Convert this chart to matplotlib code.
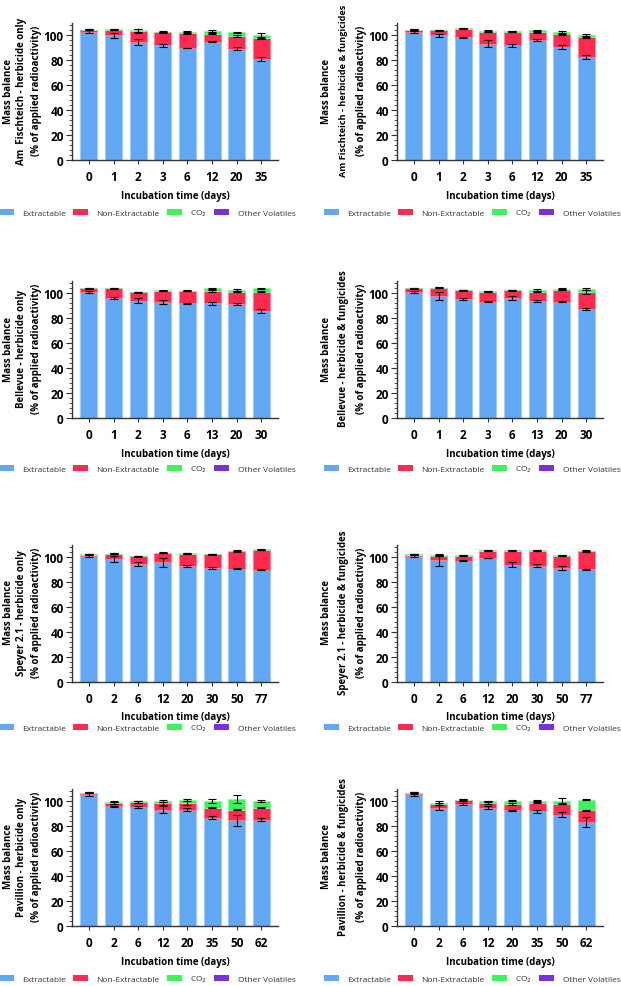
import numpy as np
import matplotlib
matplotlib.use("Agg")
import matplotlib.pyplot as plt
from matplotlib.ticker import MultipleLocator
from matplotlib.patches import Patch

plt.rcParams['font.family'] = ['Open Sans', 'DejaVu Sans']

# ---- data ----
series_names = ["Extractable", "Non-Extractable", "CO$_2$", "Other Volatiles"]
colors = ["#62a8f5", "#ff2a50", "#3df25a", "#7a2fe0"]
edge_colors = ["#9ccaf8", "#ff7b92", "#8ff79f", "#a77aea"]

# Am Fischteich - herbicide only
af_h_days = ["0", "1", "2", "3", "6", "12", "20", "35"]
af_h_ext = [103, 100, 95, 92, 90, 95, 89.5, 81]
af_h_ner = [1.5, 4.5, 8.7, 10.5, 12, 6.5, 10, 17]
af_h_co2 = [0.2, 0.3, 0.3, 0.5, 0.7, 2, 3, 2]
af_h_ext_err = [1, 2, 2.5, 1, 0.3, 0.5, 1, 1.5]
af_h_ner_err = [0.5, 0.5, 1.5, 0.3, 1, 0.5, 0.5, 0.5]
af_h_co2_err = [0.5, 0.5, 1.5, 0.3, 0.8, 0.5, 0.3, 2]

# Am Fischteich - herbicide & fungicides
af_f_days = ["0", "1", "2", "3", "6", "12", "20", "35"]
af_f_ext = [103, 100, 98.5, 93.5, 92, 96.5, 91, 82.5]
af_f_ner = [1.5, 4, 7, 9.5, 11, 6, 10, 16]
af_f_co2 = [0.2, 0.2, 0.2, 0.5, 0.3, 1.5, 2, 2]
af_f_ext_err = [0.7, 1.5, 0.3, 2.5, 1.5, 0.8, 1.5, 1.5]
af_f_ner_err = [0.3, 0.3, 0.3, 0.5, 0.3, 0.5, 0.5, 0.5]
af_f_co2_err = [0.7, 0.3, 0.3, 1, 0.3, 0.7, 0.8, 0.8]

# Bellevue - herbicide only
bv_h_days = ["0", "1", "2", "3", "6", "13", "20", "30"]
bv_h_ext = [101, 96.5, 94, 93, 92, 92, 91.5, 86]
bv_h_ner = [3, 7.5, 7, 9, 10, 10, 10, 15.5]
bv_h_co2 = [0.2, 0.2, 0.2, 0.5, 0.2, 2, 1.5, 2.5]
bv_h_ext_err = [1, 0.7, 2, 1.5, 0.3, 1, 0.5, 1.5]
bv_h_ner_err = [0.5, 0.3, 0.3, 0.3, 0.3, 0.5, 0.7, 0.3]
bv_h_co2_err = [0.3, 0.3, 0.3, 0.3, 0.3, 0.3, 0.7, 0.3]

# Bellevue - herbicide & fungicides
bv_f_days = ["0", "1", "2", "3", "6", "13", "20", "30"]
bv_f_ext = [101, 98, 95.5, 93.5, 96.5, 94, 93.5, 87.5]
bv_f_ner = [3, 6.5, 7, 8, 6, 7.5, 9.5, 13.5]
bv_f_co2 = [0.2, 0.2, 0.2, 0.2, 0.2, 1.5, 0.5, 2.5]
bv_f_ext_err = [1, 3.5, 0.5, 0.3, 1.5, 1, 0.3, 0.5]
bv_f_ner_err = [0.5, 0.3, 0.3, 0.3, 0.3, 0.5, 0.3, 1.5]
bv_f_co2_err = [0.3, 0.3, 0.3, 0.3, 0.3, 0.7, 0.5, 0.5]

# Speyer 2.1 - herbicide only
sp_h_days = ["0", "2", "6", "12", "20", "30", "50", "77"]
sp_h_ext = [101.5, 98.5, 94.5, 96, 93, 91.5, 91, 90.3]
sp_h_ner = [0.8, 4.5, 6.5, 7.5, 10, 11, 14, 15.7]
sp_h_co2 = [0.1, 0.1, 0.1, 0.3, 0.2, 0.2, 0.5, 0.5]
sp_h_ext_err = [1.5, 2.5, 1.5, 3.5, 0.7, 0.7, 0.2, 0.3]
sp_h_ner_err = [0.3, 0.5, 0.3, 0.3, 0.3, 0.3, 0.5, 0.3]
sp_h_co2_err = [0.3, 0.3, 0.2, 0.2, 0.3, 0.2, 0.3, 0.3]

# Speyer 2.1 - herbicide & fungicides
sp_f_days = ["0", "2", "6", "12", "20", "30", "50", "77"]
sp_f_ext = [101.5, 98, 97.5, 99.5, 94, 93.5, 91.5, 90.5]
sp_f_ner = [0.8, 3.5, 4, 6, 11.5, 12, 10, 14.5]
sp_f_co2 = [0.1, 0.1, 0.1, 0.1, 0.2, 0.2, 0.2, 0.3]
sp_f_ext_err = [1, 4.5, 0.5, 0.3, 2, 1.5, 1.5, 0.3]
sp_f_ner_err = [0.3, 0.5, 0.3, 0.3, 0.3, 0.3, 0.3, 0.3]
sp_f_co2_err = [0.3, 0.5, 0.2, 0.3, 0.3, 0.3, 0.3, 0.3]

# Pavillion - herbicide only
pv_h_days = ["0", "2", "6", "12", "20", "35", "50", "62"]
pv_h_ext = [106, 96, 95.5, 93.5, 93.5, 87, 85, 85.5]
pv_h_ner = [0.7, 3, 4, 5, 5.5, 8, 8.5, 9.5]
pv_h_co2 = [0.2, 0.5, 0.8, 2, 2, 5.5, 8.5, 5.5]
pv_h_ext_err = [1.5, 0.5, 1, 2.5, 1.5, 1, 4.5, 1]
pv_h_ner_err = [0.3, 1, 1, 1, 1.5, 0.5, 0.5, 0.5]
pv_h_co2_err = [0.3, 0.3, 0.3, 0.7, 1, 1.5, 3.5, 1]

# Pavillion - herbicide & fungicides
pv_f_days = ["0", "2", "6", "12", "20", "35", "50", "62"]
pv_f_ext = [106, 95, 98, 95, 93, 92, 89.5, 83.5]
pv_f_ner = [0.7, 3, 3, 4, 5, 7, 8.5, 9.5]
pv_f_co2 = [0.2, 0.5, 0.5, 1, 2.5, 1.5, 2.5, 8.5]
pv_f_ext_err = [1.5, 2, 1, 1, 0.3, 1.5, 2, 4]
pv_f_ner_err = [0.5, 1, 1, 1, 0.5, 0.3, 0.3, 0.3]
pv_f_co2_err = [0.5, 1.5, 0.3, 0.5, 0.3, 0.3, 2, 0.7]

other_vol = [0, 0, 0, 0, 0, 0, 0, 0]

panels = [
    ("Am  Fischteich - herbicide only",
     af_h_days, af_h_ext, af_h_ner, af_h_co2, af_h_ext_err, af_h_ner_err, af_h_co2_err),
    ("Am Fischteich - herbicide & fungicides",
     af_f_days, af_f_ext, af_f_ner, af_f_co2, af_f_ext_err, af_f_ner_err, af_f_co2_err),
    ("Bellevue - herbicide only",
     bv_h_days, bv_h_ext, bv_h_ner, bv_h_co2, bv_h_ext_err, bv_h_ner_err, bv_h_co2_err),
    ("Bellevue - herbicide & fungicides",
     bv_f_days, bv_f_ext, bv_f_ner, bv_f_co2, bv_f_ext_err, bv_f_ner_err, bv_f_co2_err),
    ("Speyer 2.1 - herbicide only",
     sp_h_days, sp_h_ext, sp_h_ner, sp_h_co2, sp_h_ext_err, sp_h_ner_err, sp_h_co2_err),
    ("Speyer 2.1 - herbicide & fungicides",
     sp_f_days, sp_f_ext, sp_f_ner, sp_f_co2, sp_f_ext_err, sp_f_ner_err, sp_f_co2_err),
    ("Pavillion - herbicide only",
     pv_h_days, pv_h_ext, pv_h_ner, pv_h_co2, pv_h_ext_err, pv_h_ner_err, pv_h_co2_err),
    ("Pavillion - herbicide & fungicides",
     pv_f_days, pv_f_ext, pv_f_ner, pv_f_co2, pv_f_ext_err, pv_f_ner_err, pv_f_co2_err),
]

W, H = 621, 987
fig = plt.figure(figsize=(W / 100, H / 100), dpi=100)

col_left = [72, 397]            # px, left spine
axis_w = 206                     # px
row_zero = [161, 419, 683, 927]  # px, y of zero line
axis_h = 137
legend_y = [214, 470, 729, 980]
legend_x = [-1, 324]
xlab_off = [36, 36, 35, 36]
# x offsets (px from left spine) of the three y-label lines
ylab_x = {0: [-64, -50, -35], 1: [-70, -53, -35]}
ylab_mid = 70  # px above zero line

for i, (site, days, ext, ner, co2, e_err, n_err, c_err) in enumerate(panels):
    r, c = divmod(i, 2)
    ax = fig.add_axes([col_left[c] / W, (H - row_zero[r]) / H, axis_w / W, axis_h / H])
    x = np.arange(len(days))
    ext = np.array(ext)
    ner = np.array(ner)
    co2 = np.array(co2)
    ov = np.array(other_vol)
    bw = 0.69
    b1 = ext
    b2 = b1 + ner
    b3 = b2 + co2
    ax.bar(x, ext, bw, color=colors[0], edgecolor=edge_colors[0], linewidth=0.6, zorder=2)
    ax.bar(x, ner, bw, bottom=b1, color=colors[1], edgecolor=edge_colors[1], linewidth=0.6, zorder=2)
    ax.bar(x, co2, bw, bottom=b2, color=colors[2], edgecolor=edge_colors[2], linewidth=0.6, zorder=2)
    ax.bar(x, ov, bw, bottom=b3, color=colors[3], linewidth=0, zorder=2)
    for top, err in [(b1, e_err), (b2, n_err), (b3, c_err)]:
        ax.errorbar(x, top, yerr=err, fmt="none", ecolor="black", elinewidth=0.8,
                    capsize=2.6, capthick=0.8, zorder=3)

    ax.set_xlim(-0.69, 7.68)
    ax.set_ylim(0, 110)
    ax.yaxis.set_major_locator(MultipleLocator(20))
    ax.yaxis.set_minor_locator(MultipleLocator(4))
    ax.set_xticks(x)
    ax.set_xticklabels(days)
    for s in ["top", "right"]:
        ax.spines[s].set_visible(False)
    for s in ["left", "bottom"]:
        ax.spines[s].set_color("#333333")
        ax.spines[s].set_linewidth(1.0)
    ax.tick_params(axis="both", which="major", labelsize=8.5, width=0.8, color="#333333", pad=2)
    ax.tick_params(axis="y", which="major", length=4)
    ax.tick_params(axis="y", which="minor", length=2, width=0.6, color="#333333")
    ax.tick_params(axis="x", which="major", length=3, pad=4)
    for lab in ax.get_xticklabels() + ax.get_yticklabels():
        lab.set_fontweight("bold")

    ax.set_xlabel("Incubation time (days)", fontsize=7, fontweight="bold", va="center")
    ax.xaxis.set_label_coords(0.5, -xlab_off[r] / axis_h)

    lines = ["Mass balance", site, "(% of applied radioactivity)"]
    sizes = [7, 7, 7]
    if i == 1:
        sizes[1] = 6.6
    for k, txt in enumerate(lines):
        ax.text(ylab_x[c][k] / axis_w, ylab_mid / axis_h, txt, transform=ax.transAxes,
                rotation=90, ha="center", va="center", fontsize=sizes[k], fontweight="bold")

    handles = [Patch(facecolor=col, edgecolor="none") for col in colors]
    fig.legend(handles, series_names, loc="center left",
               bbox_to_anchor=(legend_x[c] / W, 1 - legend_y[r] / H),
               ncol=4, frameon=False, fontsize=6.0, handlelength=1.8, handleheight=0.8,
               handletextpad=1.0, columnspacing=0.85, borderpad=0, borderaxespad=0,
               labelcolor="#333333")

fig.savefig("out.png", dpi=100)
